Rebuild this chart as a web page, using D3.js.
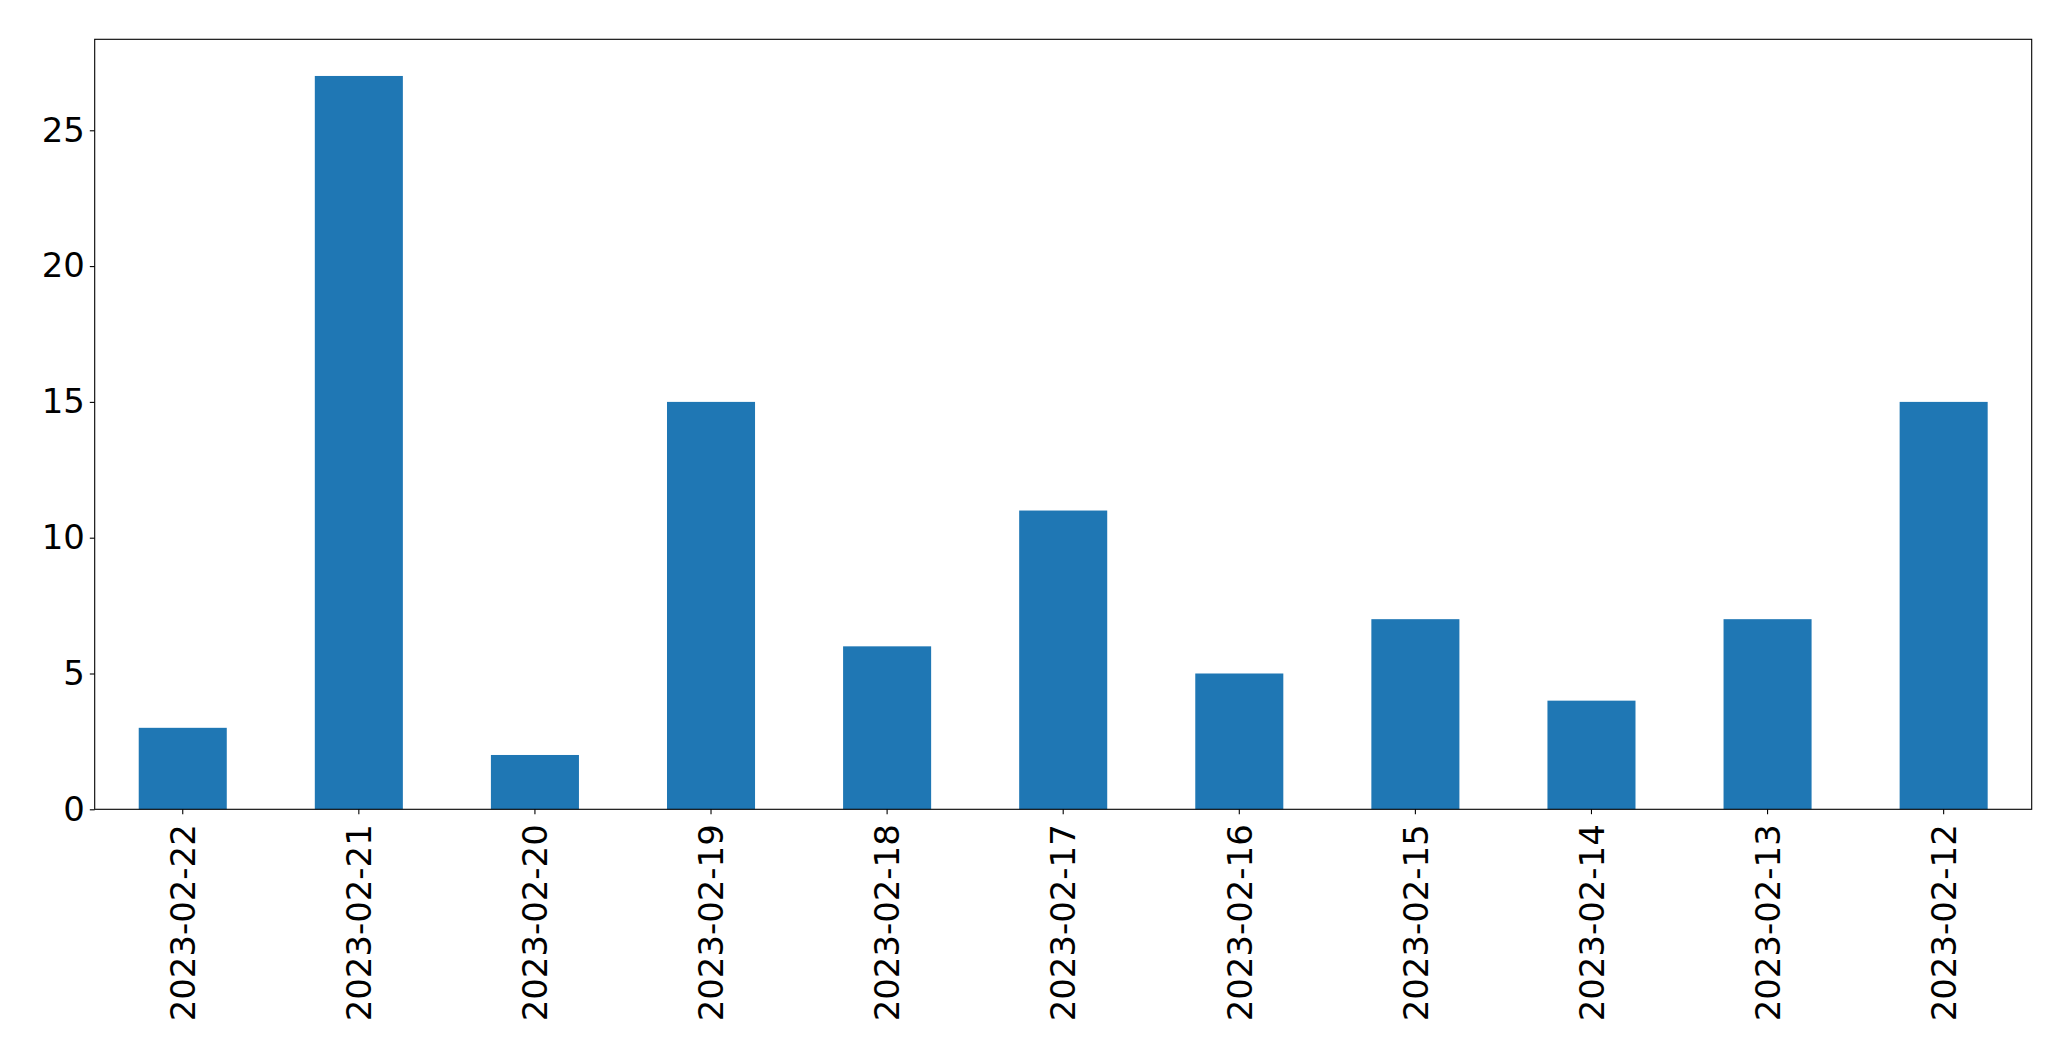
<!DOCTYPE html>
<html><head><meta charset="utf-8">
<script src="https://cdn.jsdelivr.net/npm/d3@7"></script>
<style>body{margin:0;background:#fff}svg{display:block}text{font-family:"DejaVu Sans",sans-serif}</style>
</head><body>
<script>
const categories = ["2023-02-22","2023-02-21","2023-02-20","2023-02-19","2023-02-18","2023-02-17","2023-02-16","2023-02-15","2023-02-14","2023-02-13","2023-02-12"];
const values = [3,27,2,15,6,11,5,7,4,7,15];
const yTicks = [0,5,10,15,20,25];

const W = 2071, H = 1061;
const m = {left: 94.7, right: W - 2031.7, top: 39.3, bottom: H - 809.3};
const svg = d3.select("body").append("svg").attr("width", W).attr("height", H);
const x = d3.scaleBand().domain(categories).range([m.left, W - m.right]).paddingInner(0.5).paddingOuter(0.25);
const y = d3.scaleLinear().domain([0, d3.max(values) * 1.05]).range([H - m.bottom, m.top]);

svg.append("g").selectAll("rect").data(values).join("rect")
  .attr("x", (d, i) => x(categories[i])).attr("width", x.bandwidth())
  .attr("y", d => y(d)).attr("height", d => y(0) - y(d)).attr("fill", "#1f77b4");

const fs = 33.9;
const yAxis = svg.append("g").attr("transform", `translate(${m.left},0)`)
  .call(d3.axisLeft(y).tickValues(yTicks).tickSize(4.9).tickPadding(4.9).tickFormat(d3.format("d")));
yAxis.select(".domain").remove();
yAxis.selectAll("line").attr("stroke", "#000").attr("stroke-width", 1.1);
yAxis.selectAll("text").attr("font-size", fs).attr("fill", "#000").attr("font-family", "DejaVu Sans");

const xAxis = svg.append("g").attr("transform", `translate(0,${H - m.bottom})`)
  .call(d3.axisBottom(x).tickSize(4.9).tickPadding(0));
xAxis.select(".domain").remove();
xAxis.selectAll("line").attr("stroke", "#000").attr("stroke-width", 1.1);
xAxis.selectAll("text").attr("font-size", fs).attr("fill", "#000").attr("font-family", "DejaVu Sans")
  .attr("text-anchor", "end").attr("transform", "rotate(-90)")
  .attr("x", -15).attr("y", 0).attr("dy", "0.36em");

svg.append("rect").attr("x", m.left).attr("y", m.top)
  .attr("width", W - m.left - m.right).attr("height", H - m.top - m.bottom)
  .attr("fill", "none").attr("stroke", "#000").attr("stroke-width", 1.1);
</script>
</body></html>
